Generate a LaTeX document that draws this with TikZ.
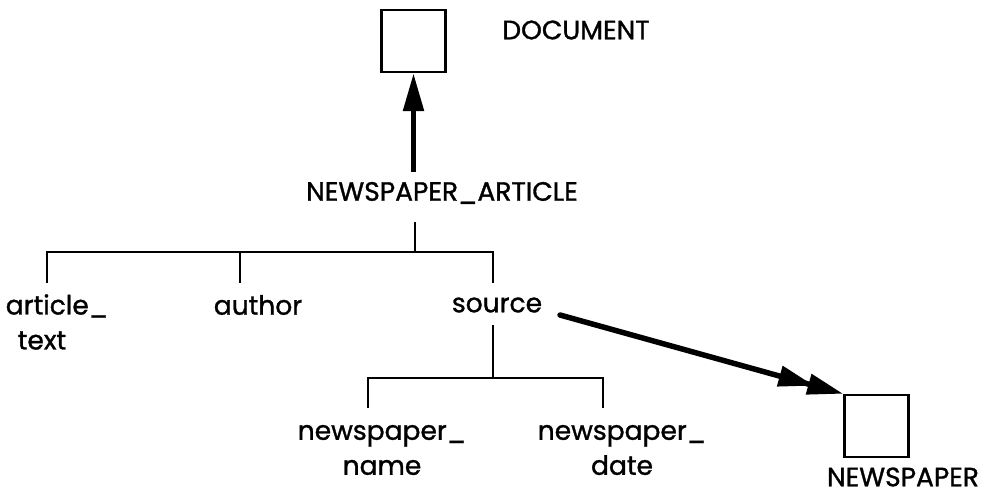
\documentclass[tikz,border=0pt]{standalone}
\usepackage{fontspec}
\setmainfont{Poppins}[FakeBold=1.2]
\usetikzlibrary{arrows.meta}
\begin{document}
\begin{tikzpicture}[x=1pt,y=-1pt,
  lbl/.style={inner sep=0pt, font=\fontsize{26.5}{35}\selectfont, align=center},
  entity/.style={draw, line width=2.4pt, minimum width=64pt, minimum height=62pt, inner sep=0pt},
  branch/.style={line width=2pt},
  isa/.style={line width=5.5pt, -{Triangle[length=38pt,width=20pt]}},
  ref/.style={line width=5.5pt, line cap=round,
    -{Triangle[length=36pt,width=20pt,sep=-6pt]Triangle[length=36pt,width=20pt]}}]
  \useasboundingbox (0,0) rectangle (997,495);

  % entity boxes
  \node[entity] (doc) at (413.5,41) {};
  \node[lbl] (docL) at (576,30) {DOCUMENT};
  \node[entity] (np) at (876.5,426) {};
  \node[lbl] (npL) at (903,477) {NEWSPAPER};

  % labels of the structure
  \node[lbl] (na) at (442,193) {NEWSPAPER\_ARTICLE};
  \node[lbl] (art) at (57,322) {article\_\\text\hspace*{30pt}};
  \node[lbl] (aut) at (258,305) {author};
  \node[lbl] (src) at (497,305) {source};
  \node[lbl] (nn) at (382,450) {newspaper\_\\name};
  \node[lbl] (nd) at (622,450) {newspaper\_\\date};

  % joints of the tree
  \coordinate (naB) at (415,222);
  \coordinate (bar) at (415,252);
  \coordinate (artT) at (47,283);
  \coordinate (autT) at (240,283);
  \coordinate (srcT) at (493,283);
  \coordinate (srcB) at (493,325);
  \coordinate (bar2) at (493,378);
  \coordinate (nnT) at (368,408);
  \coordinate (ndT) at (603,408);
  \coordinate (naT) at (413.5,172);
  \coordinate (srcR) at (560,315);

  % component branches
  \draw[branch] (naB) -- (bar);
  \draw[branch] (artT) |- (bar) -| (srcT);
  \draw[branch] (autT) -- (autT |- bar);
  \draw[branch] (srcB) -- (bar2);
  \draw[branch] (nnT) |- (bar2) -| (ndT);

  % generalisation and reference arrows
  \draw[isa] (naT) -- (doc.south);
  \draw[ref] (srcR) -- (np.north west);
\end{tikzpicture}
\end{document}
